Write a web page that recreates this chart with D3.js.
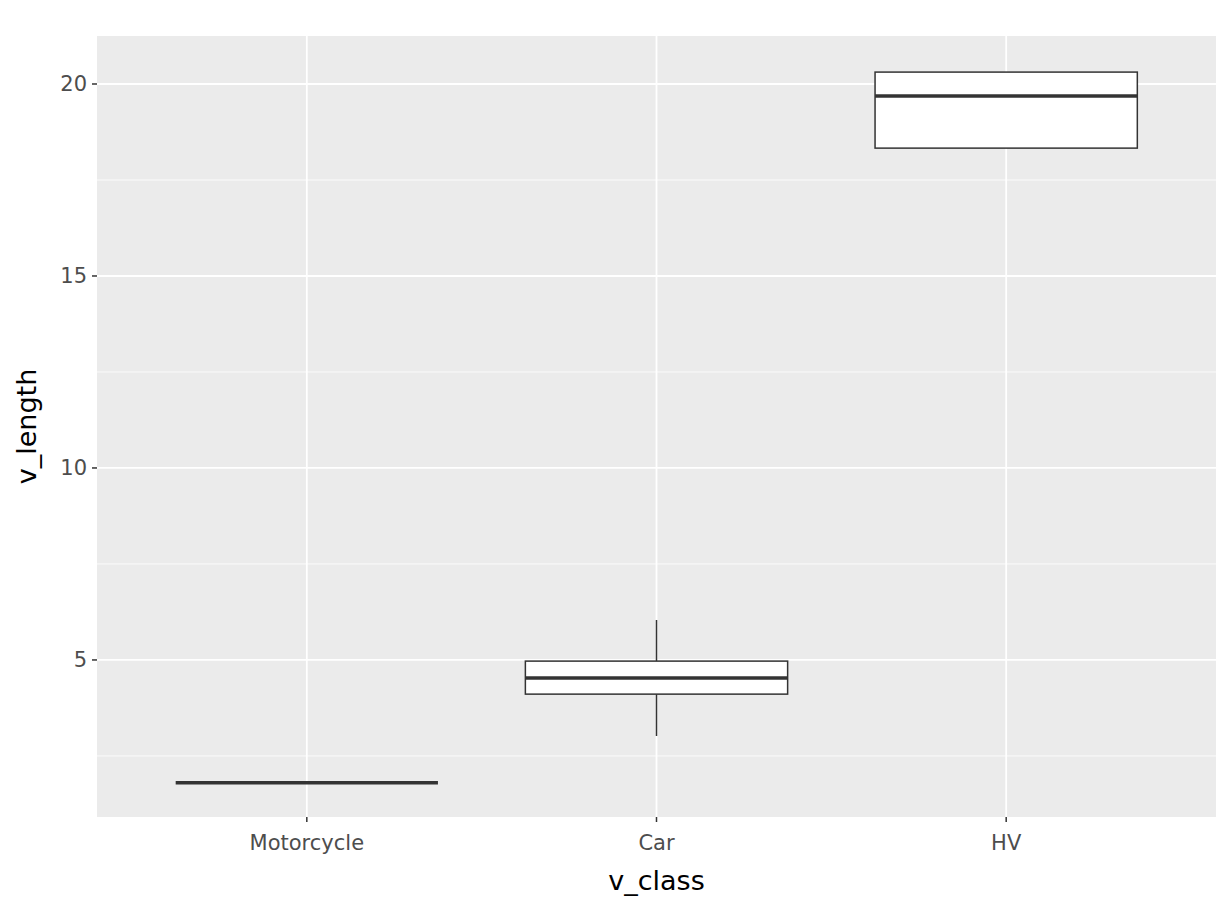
<!DOCTYPE html>
<html><head><meta charset="utf-8">
<script src="https://cdn.jsdelivr.net/npm/d3@7"></script>
<style>body{margin:0;background:#fff}text{font-family:"DejaVu Sans",sans-serif}</style>
</head><body><svg id="c" width="1228" height="921"></svg>
<script>
const categories=["Motorcycle","Car","HV"];
const lower=[1.8,3.02,18.33];
const q1=[1.8,4.11,18.33];
const median=[1.8,4.53,19.69];
const q3=[1.8,4.97,20.31];
const upper=[1.8,6.04,20.31];
const yTicks=[5,10,15,20];

const svg=d3.select("#c");
const L=97,R=1216,T=36,B=817;
const x=d3.scaleLinear().domain([0.4,3.6]).range([L,R]);
const y=d3.scaleLinear().domain([0.91,21.25]).range([B,T]);
svg.append("rect").attr("x",L).attr("y",T).attr("width",R-L).attr("height",B-T).attr("fill","#ebebeb");
const minor=[2.5,7.5,12.5,17.5];
svg.selectAll(".mi").data(minor).enter().append("line").attr("x1",L).attr("x2",R).attr("y1",d=>y(d)).attr("y2",d=>y(d)).attr("stroke","#fff").attr("stroke-width",0.8);
svg.selectAll(".ma").data(yTicks).enter().append("line").attr("x1",L).attr("x2",R).attr("y1",d=>y(d)).attr("y2",d=>y(d)).attr("stroke","#fff").attr("stroke-width",1.8);
svg.selectAll(".mx").data(categories).enter().append("line").attr("x1",(d,i)=>x(i+1)).attr("x2",(d,i)=>x(i+1)).attr("y1",T).attr("y2",B).attr("stroke","#fff").attr("stroke-width",1.8);
svg.selectAll(".yt").data(yTicks).enter().append("line").attr("x1",L-5).attr("x2",L).attr("y1",d=>y(d)).attr("y2",d=>y(d)).attr("stroke","#333").attr("stroke-width",1.5);
svg.selectAll(".yl").data(yTicks).enter().append("text").attr("x",L-10).attr("y",d=>y(d)).attr("dy","0.35em").attr("text-anchor","end").attr("font-size",21).attr("fill","#4d4d4d").text(d=>d);
svg.selectAll(".xt").data(categories).enter().append("line").attr("x1",(d,i)=>x(i+1)).attr("x2",(d,i)=>x(i+1)).attr("y1",B).attr("y2",B+5).attr("stroke","#333").attr("stroke-width",1.5);
svg.selectAll(".xl").data(categories).enter().append("text").attr("x",(d,i)=>x(i+1)).attr("y",B+33).attr("text-anchor","middle").attr("font-size",21).attr("fill","#4d4d4d").text(d=>d);
svg.append("text").attr("x",(L+R)/2).attr("y",890).attr("text-anchor","middle").attr("font-size",27).text("v_class");
svg.append("text").attr("transform",`translate(36,${(T+B)/2}) rotate(-90)`).attr("text-anchor","middle").attr("font-size",27).text("v_length");
const hw=0.375;
categories.forEach((c,i)=>{
  const cx=x(i+1),x0=x(i+1-hw),x1=x(i+1+hw);
  const g=svg.append("g").attr("stroke","#333");
  g.append("line").attr("x1",cx).attr("x2",cx).attr("y1",y(upper[i])).attr("y2",y(q3[i])).attr("stroke-width",1.5);
  g.append("line").attr("x1",cx).attr("x2",cx).attr("y1",y(q1[i])).attr("y2",y(lower[i])).attr("stroke-width",1.5);
  g.append("rect").attr("x",x0).attr("width",x1-x0).attr("y",y(q3[i])).attr("height",y(q1[i])-y(q3[i])).attr("fill","#fff").attr("stroke-width",1.5);
  g.append("line").attr("x1",x0).attr("x2",x1).attr("y1",y(median[i])).attr("y2",y(median[i])).attr("stroke-width",3.5);
});
</script></body></html>
